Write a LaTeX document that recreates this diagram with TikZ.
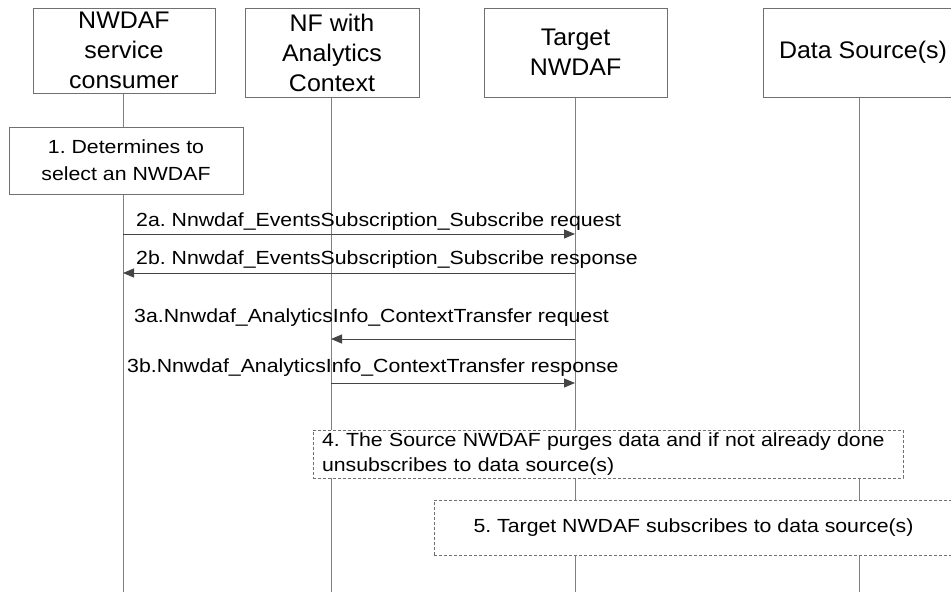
\documentclass[tikz,border=0pt]{standalone}
\usepackage{fontspec}
\setmainfont{Liberation Sans}
\newfontfamily\hdrfont{Liberation Sans}[FakeStretch=1.04]
\newfontfamily\lblfont{Liberation Sans}[FakeStretch=1.12]
\usetikzlibrary{arrows.meta,backgrounds}
\frenchspacing
\definecolor{boxgray}{HTML}{707070}
\definecolor{linegray}{HTML}{808080}
\definecolor{arrowgray}{HTML}{454545}
\tikzset{
  hdr/.style={draw=boxgray, line width=1pt, fill=white, align=center, inner sep=0pt,
    font=\hdrfont\fontsize{24}{30}\selectfont},
  stepbox/.style={draw=boxgray, line width=1pt, fill=white, align=center, inner sep=0pt,
    font=\lblfont\fontsize{19}{27}\selectfont},
  dbox/.style={draw=boxgray, line width=0.8pt, dash pattern=on 3pt off 2pt, fill=white,
    inner sep=0pt, font=\lblfont\fontsize{19}{25}\selectfont},
  life/.style={draw=linegray, line width=1pt},
  msg/.style={draw=arrowgray, line width=1pt, -{Triangle[length=11pt,width=9pt]}},
  lbl/.style={font=\lblfont\fontsize{19}{23}\selectfont, inner sep=0pt, anchor=base west},
}
\begin{document}
\begin{tikzpicture}[x=1pt,y=-1pt]
\useasboundingbox (0,0) rectangle (951,592);
\clip (0,0) rectangle (951,592);
% header boxes
\node[hdr, minimum width=182pt, minimum height=85pt] (cons) at (124,50.5) {NWDAF\\service\\consumer};
\node[hdr, minimum width=174pt, minimum height=89pt] (nf) at (332,52.5) {NF with\\Analytics\\Context};
\node[hdr, minimum width=183pt, minimum height=89pt] (tgt) at (575.5,52.5) {Target\\NWDAF};
\node[hdr, minimum width=200pt, minimum height=89pt] (ds) at (863,52.5) {Data Source(s)};
% lifeline ends
\coordinate (consE) at (123,592);
\coordinate (nfE) at (331,592);
\coordinate (tgtE) at (575,592);
\coordinate (dsE) at (859,592);
% step 1
\node[stepbox, minimum width=234pt, minimum height=67pt] (s1) at (126,160.5) {1. Determines to\\select an NWDAF};
% lifelines
\begin{scope}[on background layer]
\draw[life] (cons.south -| consE) -- (consE);
\draw[life] (nf.south -| nfE) -- (nfE);
\draw[life] (tgt.south -| tgtE) -- (tgtE);
\draw[life] (ds.south -| dsE) -- (dsE);
\end{scope}
% messages
\draw[msg] (consE |- 0,234) -- (tgtE |- 0,234);
\node[lbl] (l2a) at (136,226) {2a. Nnwdaf\_EventsSubscription\_Subscribe request};
\draw[msg] (tgtE |- 0,273) -- (consE |- 0,273);
\node[lbl] (l2b) at (136,264) {2b. Nnwdaf\_EventsSubscription\_Subscribe response};
\draw[msg] (tgtE |- 0,339) -- (nfE |- 0,339);
\node[lbl] (l3a) at (134,322) {3a.Nnwdaf\_AnalyticsInfo\_ContextTransfer request};
\draw[msg] (nfE |- 0,383) -- (tgtE |- 0,383);
\node[lbl] (l3b) at (127,372) {3b.Nnwdaf\_AnalyticsInfo\_ContextTransfer response};
% step 4 and 5
\node[dbox, minimum width=590pt, minimum height=48pt, text width=572pt, align=left] (s4) at (608,454)
  {4. The Source NWDAF purges data and if not already done\\unsubscribes to data source(s)};
\node[dbox, minimum width=519pt, minimum height=55pt] (s5) at (693.5,527.5)
  {5. Target NWDAF subscribes to data source(s)};
\end{tikzpicture}
\end{document}
